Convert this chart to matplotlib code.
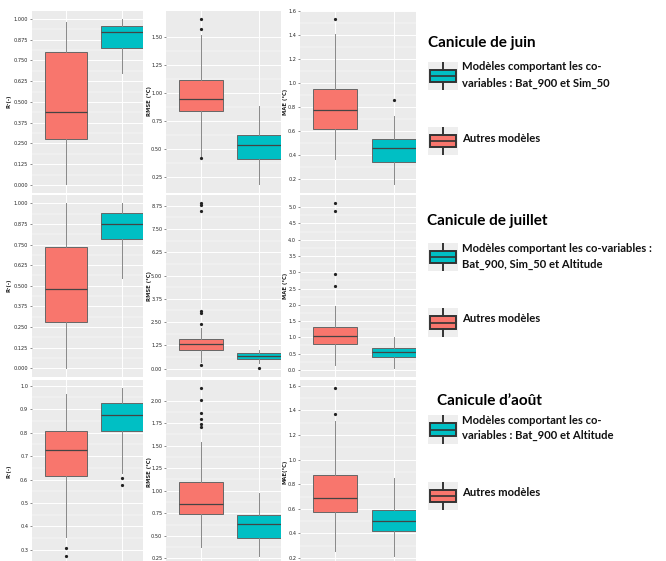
import numpy as np
import matplotlib
matplotlib.use('Agg')
import matplotlib.pyplot as plt

# five-number summaries [whislo, q1, med, q3, whishi] : [autres modeles, modeles co-variables]
juin_r2 = [[0.005, 0.274, 0.44, 0.80, 0.98], [0.676, 0.823, 0.92, 0.958, 1.0]]
juin_r2_out = [[], []]
juin_rmse = [[0.44, 0.846, 0.953, 1.12, 1.515], [0.19, 0.414, 0.542, 0.625, 0.884]]
juin_rmse_out = [[1.664, 1.575, 0.42], []]
juin_mae = [[0.366, 0.615, 0.777, 0.952, 1.404], [0.155, 0.344, 0.456, 0.534, 0.726]]
juin_mae_out = [[1.535], [0.86]]

juillet_r2 = [[0.0, 0.282, 0.479, 0.735, 1.0], [0.549, 0.782, 0.873, 0.941, 1.0]]
juillet_r2_out = [[], []]
juillet_rmse = [[0.35, 1.02, 1.30, 1.57, 2.19], [0.32, 0.51, 0.70, 0.83, 1.02]]
juillet_rmse_out = [[8.88, 8.80, 8.47, 3.12, 3.01, 2.42, 0.18], [0.02]]
juillet_mae = [[0.15, 0.81, 1.04, 1.33, 1.97], [0.05, 0.39, 0.54, 0.68, 1.02]]
juillet_mae_out = [[5.12, 4.87, 2.95, 2.58], []]

aout_r2 = [[0.357, 0.615, 0.727, 0.807, 0.966], [0.629, 0.805, 0.875, 0.924, 0.99]]
aout_r2_out = [[0.308, 0.276], [0.608, 0.578]]
aout_rmse = [[0.37, 0.736, 0.85, 1.10, 1.54], [0.28, 0.475, 0.63, 0.73, 0.978]]
aout_rmse_out = [[2.14, 2.01, 1.86, 1.79, 1.74, 1.71], []]
aout_mae = [[0.256, 0.578, 0.691, 0.879, 1.31], [0.22, 0.417, 0.502, 0.589, 0.847]]
aout_mae_out = [[1.583, 1.368], []]

titles = ['Canicule de juin', 'Canicule de juillet', 'Canicule d\u2019ao\u00fbt']
legend_lines = [['Mod\u00e8les comportant les co-', 'variables : Bat_900 et Sim_50'],
                ['Mod\u00e8les comportant les co-variables :', 'Bat_900, Sim_50 et Altitude'],
                ['Mod\u00e8les comportant les co-', 'variables : Bat_900 et Altitude']]
autres_label = 'Autres mod\u00e8les'

ylabels = [['R\u00b2(-)', 'RMSE (\u00b0C)', 'MAE (\u00b0C)'],
           ['R\u00b2(-)', 'RMSE (\u00b0C)', 'MAE (\u00b0C)'],
           ['R\u00b2(-)', 'RMSE (\u00b0C)', 'MAE(\u00b0C)']]
ticks = [[np.arange(0, 1.001, 0.125), np.arange(0.25, 1.51, 0.25), np.arange(0.2, 1.61, 0.2)],
         [np.arange(0, 1.001, 0.125), np.arange(0, 8.76, 1.25), np.arange(0, 5.01, 0.5)],
         [np.arange(0.3, 1.001, 0.1), np.arange(0.25, 2.01, 0.25), np.arange(0.2, 1.61, 0.2)]]
fmts = [['%.3f', '%.2f', '%.1f'], ['%.3f', '%.2f', '%.1f'], ['%.1f', '%.2f', '%.1f']]

stats = [[juin_r2, juin_rmse, juin_mae], [juillet_r2, juillet_rmse, juillet_mae],
         [aout_r2, aout_rmse, aout_mae]]
outs = [[juin_r2_out, juin_rmse_out, juin_mae_out],
        [juillet_r2_out, juillet_rmse_out, juillet_mae_out],
        [aout_r2_out, aout_rmse_out, aout_mae_out]]

RED = '#F8766D'
CYAN = '#00BFC4'
W, H = 666, 561

fig = plt.figure(figsize=(W / 100, H / 100), dpi=100)
fig.patch.set_facecolor('white')


def px_axes(x0, y0, x1, y1):
    return fig.add_axes([x0 / W, 1 - y1 / H, (x1 - x0) / W, (y1 - y0) / H])


rows = [(10.5, 192.5), (195, 376.5), (379.5, 564)]
cols = [(32, 143), (166, 281), (300, 416)]
lab_x = [12, 152, 288]

for i in range(3):
    for j in range(3):
        ax = px_axes(cols[j][0], rows[i][0], cols[j][1], rows[i][1])
        ax.set_facecolor('#EBEBEB')
        s = stats[i][j]
        o = outs[i][j]
        bx = []
        for k in range(2):
            lo, q1, med, q3, hi = s[k]
            bx.append(dict(whislo=lo, q1=q1, med=med, q3=q3, whishi=hi, fliers=o[k]))
        b = ax.bxp(bx, positions=[1, 2], widths=0.75, showcaps=False, patch_artist=True,
                   boxprops=dict(edgecolor='#666666', linewidth=0.7),
                   whiskerprops=dict(color='#888888', linewidth=0.7),
                   medianprops=dict(color='#444444', linewidth=0.9),
                   flierprops=dict(marker='o', markersize=1.3, markerfacecolor='#222222',
                                   markeredgecolor='#222222'))
        for patch, c in zip(b['boxes'], [RED, CYAN]):
            patch.set_facecolor(c)
        allv = [v for k in range(2) for v in s[k] + o[k]]
        lo, hi = min(allv), max(allv)
        pad = (hi - lo) * 0.05
        ax.set_ylim(lo - pad, hi + pad)
        ax.set_xlim(0.4, 2.38)
        t = ticks[i][j]
        ax.set_yticks(t)
        ax.set_yticklabels([fmts[i][j] % v for v in t])
        mids = (t[:-1] + t[1:]) / 2
        ax.set_yticks(mids, minor=True)
        ax.set_xticks([1, 2])
        ax.set_xticklabels([])
        ax.grid(True, which='major', color='white', linewidth=0.7)
        ax.grid(True, which='minor', axis='y', color='white', linewidth=0.35)
        ax.set_axisbelow(True)
        ax.tick_params(axis='y', which='major', labelsize=3.6, length=1.2, width=0.4,
                       color='#333333', labelcolor='#222222', pad=1.5)
        ax.tick_params(axis='y', which='minor', length=0)
        ax.tick_params(axis='x', length=0)
        for sp in ax.spines.values():
            sp.set_visible(False)
        ax.set_ylabel(ylabels[i][j], fontsize=3.8, fontweight='bold', color='#222222')
        ax.yaxis.set_label_coords((lab_x[j] - cols[j][0]) / (cols[j][1] - cols[j][0]), 0.5)

# right side titles and legends
title_y = [43, 221, 401]
title_x = [428, 427, 437]
icon1_y = [(62, 90), (243, 271), (415, 444)]
icon2_y = [(127, 155), (308, 337), (482, 510)]
text1_y = [(67, 83), (249, 264), (421, 435)]
text2_y = [139, 318, 493]


def icon(y0, y1, color):
    a = px_axes(428, y0, 458, y1)
    a.set_facecolor('#EEEEEE')
    bb = a.bxp([dict(whislo=0.0, q1=0.27, med=0.5, q3=0.73, whishi=1.0, fliers=[])],
               positions=[1], widths=0.85, showcaps=False, patch_artist=True,
               boxprops=dict(edgecolor='#333333', linewidth=1.4),
               whiskerprops=dict(color='#333333', linewidth=1.4),
               medianprops=dict(color='#333333', linewidth=1.2))
    bb['boxes'][0].set_facecolor(color)
    a.set_xlim(0.5, 1.5)
    a.set_ylim(0, 1)
    a.set_xticks([])
    a.set_yticks([])
    for sp in a.spines.values():
        sp.set_visible(False)


for i in range(3):
    fig.text(title_x[i] / W, 1 - title_y[i] / H, titles[i], fontsize=11,
             fontweight='bold', family='Lato', va='center', ha='left', color='black')
    icon(icon1_y[i][0], icon1_y[i][1], CYAN)
    icon(icon2_y[i][0], icon2_y[i][1], RED)
    for ln, yy in zip(legend_lines[i], text1_y[i]):
        fig.text(462 / W, 1 - yy / H, ln, fontsize=8.1, fontweight='bold', family='Lato',
                 va='center', ha='left', color='#111111')
    fig.text(462 / W, 1 - text2_y[i] / H, autres_label, fontsize=8.1, fontweight='bold',
             family='Lato', va='center', ha='left', color='#111111')

plt.savefig('out.png', dpi=100)
